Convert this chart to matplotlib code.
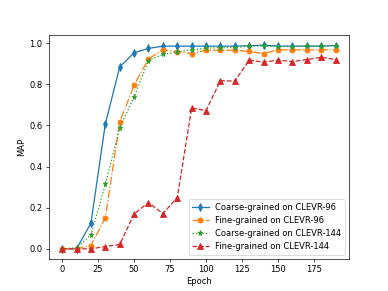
import numpy as np
import matplotlib
matplotlib.use("Agg")
import matplotlib.pyplot as plt

epochs = list(range(0, 200, 10))

coarse_96 = [0.0, 0.0, 0.125, 0.607, 0.884, 0.953, 0.974, 0.985, 0.985, 0.985,
             0.985, 0.985, 0.985, 0.987, 0.99, 0.985, 0.985, 0.985, 0.985, 0.988]
fine_96 = [0.0, 0.0, 0.016, 0.151, 0.616, 0.795, 0.923, 0.967, 0.958, 0.949,
           0.965, 0.965, 0.965, 0.959, 0.949, 0.967, 0.967, 0.967, 0.967, 0.967]
coarse_144 = [0.0, 0.005, 0.068, 0.313, 0.588, 0.738, 0.915, 0.945, 0.956, 0.968,
              0.975, 0.978, 0.978, 0.985, 0.985, 0.983, 0.983, 0.985, 0.985, 0.987]
fine_144 = [0.0, 0.0, 0.0, 0.011, 0.021, 0.169, 0.225, 0.171, 0.249, 0.684,
            0.672, 0.817, 0.815, 0.917, 0.907, 0.917, 0.91, 0.92, 0.931, 0.92]

fig, ax = plt.subplots(figsize=(6.4, 4.8), dpi=388 / 6.4)
ax.plot(epochs, coarse_96, marker='d', linestyle='-', label='Coarse-grained on CLEVR-96')
ax.plot(epochs, fine_96, marker='o', linestyle='-.', label='Fine-grained on CLEVR-96')
ax.plot(epochs, coarse_144, marker='*', linestyle=':', label='Coarse-grained on CLEVR-144')
ax.plot(epochs, fine_144, marker='^', linestyle='--', label='Fine-grained on CLEVR-144')
ax.set_xlabel('Epoch')
ax.set_ylabel('MAP')
ax.legend(loc='lower right')
fig.savefig('out.png')
